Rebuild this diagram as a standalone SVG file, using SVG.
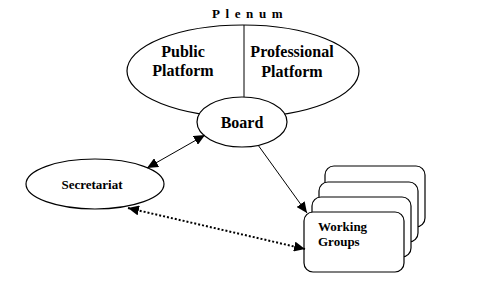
<svg xmlns="http://www.w3.org/2000/svg" width="486" height="289" viewBox="0 0 486 289">
<style>
.s{fill:#fff;stroke:#000;stroke-width:1.2}
text{font-family:'Liberation Serif','DejaVu Serif',serif;font-weight:bold;fill:#000}
.big{font-size:16px}
.sm{font-size:13px}
.ln{stroke:#000;stroke-width:1;fill:none}
.dot{stroke:#000;stroke-width:2;stroke-dasharray:2 2;fill:none}
</style>
<defs>
<marker id="ah" markerUnits="userSpaceOnUse" markerWidth="12" markerHeight="10" refX="11" refY="5" orient="auto-start-reverse">
<path d="M0,0 L11,5 L0,10 Z" fill="#000"/>
</marker>
</defs>
<rect width="486" height="289" fill="#fff"/>
<g id="plenum">
<ellipse class="s" cx="243" cy="71" rx="116" ry="46"/>
<line class="ln" x1="244" y1="25" x2="244" y2="97"/>
<text class="sm" x="212" y="18" letter-spacing="5.6">Plenum</text>
<text class="big" x="183" y="57" text-anchor="middle">Public</text>
<text class="big" x="183" y="76" text-anchor="middle">Platform</text>
<text class="big" x="292" y="57" text-anchor="middle">Professional</text>
<text class="big" x="292" y="77" text-anchor="middle">Platform</text>
</g>
<g id="board">
<ellipse class="s" cx="242" cy="122" rx="45" ry="25"/>
<text class="big" x="242" y="128" text-anchor="middle">Board</text>
</g>
<g id="secretariat">
<ellipse class="s" cx="95" cy="184" rx="69" ry="25"/>
<text class="sm" x="92" y="189" text-anchor="middle">Secretariat</text>
</g>
<g id="working-groups">
<rect class="s" x="325" y="166" width="100" height="61" rx="9"/>
<rect class="s" x="319" y="182" width="99" height="60" rx="9"/>
<rect class="s" x="312" y="197" width="99" height="60" rx="9"/>
<rect class="s" x="304" y="212" width="100" height="60" rx="9"/>
<text class="sm" x="318" y="231">Working</text>
<text class="sm" x="318" y="246">Groups</text>
</g>
<g id="connectors">
<line class="ln" x1="147" y1="168" x2="205" y2="135" marker-start="url(#ah)" marker-end="url(#ah)"/>
<line class="ln" x1="258" y1="145" x2="307" y2="213" marker-end="url(#ah)"/>
<line class="dot" x1="128" y1="208" x2="305" y2="249" marker-start="url(#ah)" marker-end="url(#ah)"/>
</g>
</svg>
